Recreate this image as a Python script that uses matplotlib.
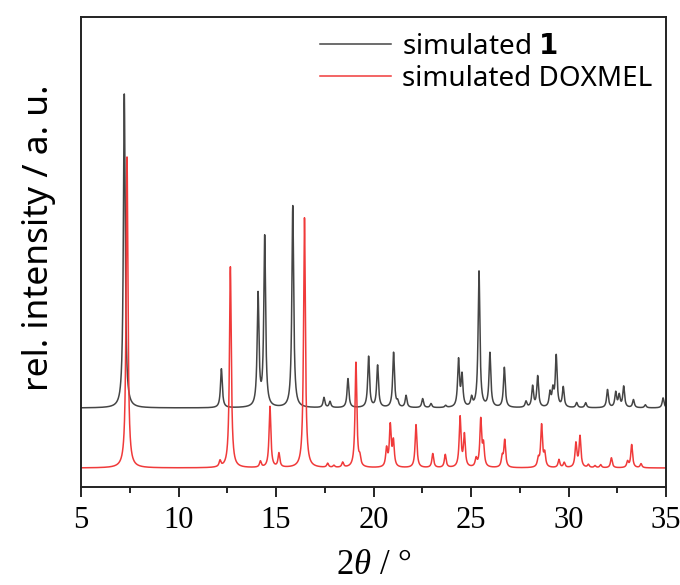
import numpy as np
import matplotlib
matplotlib.use("Agg")
import matplotlib.pyplot as plt
from matplotlib.ticker import MultipleLocator

# ---- data: peak lists (2theta in deg, height in a.u.) ----
sim1_pos = [7.22, 12.2, 14.08, 14.42, 15.86, 17.46, 17.77, 18.69, 19.75, 20.21,
            21.03, 21.24, 21.67, 22.52, 22.95, 23.7, 24.36, 24.54, 25.03, 25.41,
            25.97, 26.71, 27.82, 28.16, 28.42, 29.05, 29.2, 29.37, 29.73, 30.42,
            30.88, 32.0, 32.42, 32.6, 32.83, 33.33, 33.94, 34.85]
sim1_int = [314, 39, 112, 170, 202, 10, 6, 29, 51, 42,
            55, 5, 12, 9, 4, 2, 47, 31, 9, 136,
            54, 40, 6, 21, 31, 14, 16, 51, 20, 5,
            5, 18, 15, 12, 21, 8, 3, 10]

dox_pos = [7.36, 12.13, 12.66, 14.2, 14.69, 15.15, 16.46, 17.65, 17.97, 18.42,
           19.1, 19.3, 20.67, 20.86, 21.02, 22.18, 23.04, 23.68, 24.44, 24.66,
           25.26, 25.5, 25.64, 26.6, 26.73, 28.45, 28.62, 28.78, 29.51, 29.78,
           30.38, 30.59, 31.02, 31.36, 31.65, 32.2, 33.03, 33.24, 33.72]
dox_int = [311, 6, 201, 6, 61, 14, 250, 4, 2, 5,
           105, 8, 18, 41, 25, 43, 14, 13, 50, 32,
           8, 47, 21, 10, 27, 8, 42, 13, 8, 5,
           24, 31, 3, 2, 3, 10, 6, 23, 4]

series_labels = ["simulated $\\mathbf{1}$", "simulated DOXMEL"]
x_ticks = [5, 10, 15, 20, 25, 30, 35]

# ---- profile construction (Lorentzian peak shape) ----
two_theta = np.linspace(5, 35, 6001)
fwhm = 0.11


def profile(pos, inten):
    y = np.zeros_like(two_theta)
    g = fwhm / 2
    for p, h in zip(pos, inten):
        y += h * g**2 / ((two_theta - p) ** 2 + g**2)
    return y


offset_sim1 = 79
offset_dox = 19

plt.rcParams["mathtext.fontset"] = "custom"
plt.rcParams["mathtext.bf"] = "DejaVu Sans:bold"
plt.rcParams["mathtext.it"] = "Liberation Serif:italic"
plt.rcParams["mathtext.rm"] = "Liberation Serif"

fig = plt.figure(figsize=(6.8, 5.85), dpi=100)
ax = fig.add_axes([81 / 680, 98 / 585, 585 / 680, 470 / 585])

ax.plot(two_theta, profile(sim1_pos, sim1_int) + offset_sim1, color="#454545",
        lw=1.1, label=series_labels[0])
ax.plot(two_theta, profile(dox_pos, dox_int) + offset_dox, color="#f03a3a",
        lw=1.1, label=series_labels[1])

ax.set_xlim(5, 35)
ax.set_ylim(0, 470)
ax.set_yticks([])
ax.set_xticks(x_ticks)
ax.xaxis.set_minor_locator(MultipleLocator(2.5))
ax.tick_params(axis="x", which="major", direction="out", length=7, width=1.2,
               labelsize=22, pad=7)
ax.tick_params(axis="x", which="minor", direction="out", length=4, width=1.2)
for lab in ax.get_xticklabels():
    lab.set_family("Liberation Serif")
for s in ax.spines.values():
    s.set_linewidth(1.4)
    s.set_color("#222222")

ax.set_xlabel("2$\\it{\\theta}$ / °", fontsize=25, family="Liberation Serif")
ax.xaxis.set_label_coords(0.5, -0.132)
ax.set_ylabel("rel. intensity / a. u.", fontsize=25.5, family="Noto Sans")
ax.yaxis.set_label_coords(-0.043, 0.53)

leg = ax.legend(loc="upper right", frameon=False,
                prop={"family": "Noto Sans", "size": 20},
                handlelength=2.55, handletextpad=0.4, labelspacing=0.15,
                borderaxespad=0.0, bbox_to_anchor=(0.995, 0.99))

fig.savefig("out.png", dpi=100)
